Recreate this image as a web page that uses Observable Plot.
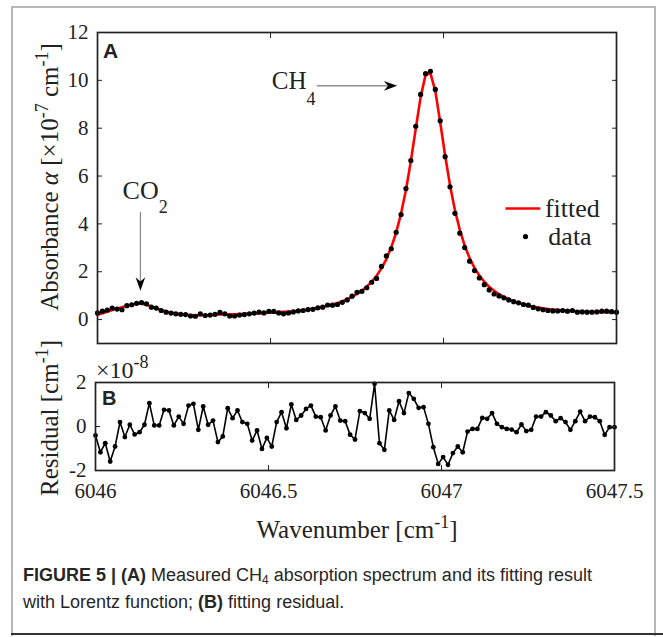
<!DOCTYPE html>
<html><head><meta charset="utf-8">
<script src="https://cdn.jsdelivr.net/npm/d3@7"></script>
<script src="https://cdn.jsdelivr.net/npm/@observablehq/plot@0.6"></script>
<style>
body{margin:0;background:#fff;}
#fig{position:relative;width:663px;height:637px;overflow:hidden;background:#fff;}
.border{position:absolute;left:11px;top:6px;width:645px;height:630px;border-left:2px solid #b8b8b8;border-top:2px solid #b8b8b8;border-right:2px solid #b8b8b8;box-sizing:border-box;}
.bottomline{position:absolute;left:11px;top:633px;width:652px;height:2px;background:#333;}
.caption{position:absolute;left:23px;top:562px;font-family:"Liberation Sans",Arial,sans-serif;font-size:18px;line-height:27px;color:#262626;white-space:nowrap;}
.caption sub{font-size:12px;vertical-align:-3px;line-height:0;}
</style>
</head><body>
<div id="fig"><div class="border"></div><div class="bottomline"></div>
<div class="caption"><b>FIGURE 5 | (A)</b> Measured CH<sub>4</sub> absorption spectrum and its fitting result<br>with Lorentz function; <b>(B)</b> fitting residual.</div>
</div>
<script>
// ---------------- data ----------------
const wavenumber = [
6046.0000, 6046.0142, 6046.0283, 6046.0425, 6046.0566, 6046.0708, 6046.0849, 6046.0991, 6046.1132, 6046.1274,
6046.1415, 6046.1557, 6046.1698, 6046.1840, 6046.1981, 6046.2123, 6046.2264, 6046.2406, 6046.2547, 6046.2689,
6046.2830, 6046.2972, 6046.3113, 6046.3255, 6046.3396, 6046.3538, 6046.3679, 6046.3821, 6046.3962, 6046.4104,
6046.4245, 6046.4387, 6046.4528, 6046.4670, 6046.4811, 6046.4953, 6046.5094, 6046.5236, 6046.5377, 6046.5519,
6046.5660, 6046.5802, 6046.5943, 6046.6085, 6046.6226, 6046.6368, 6046.6509, 6046.6651, 6046.6792, 6046.6934,
6046.7075, 6046.7217, 6046.7358, 6046.7500, 6046.7641, 6046.7783, 6046.7924, 6046.8066, 6046.8207, 6046.8349,
6046.8490, 6046.8632, 6046.8773, 6046.8915, 6046.9056, 6046.9198, 6046.9339, 6046.9481, 6046.9622, 6046.9764,
6046.9905, 6047.0047, 6047.0188, 6047.0330, 6047.0471, 6047.0613, 6047.0754, 6047.0896, 6047.1037, 6047.1179,
6047.1320, 6047.1462, 6047.1603, 6047.1745, 6047.1886, 6047.2028, 6047.2169, 6047.2311, 6047.2452, 6047.2594,
6047.2735, 6047.2877, 6047.3018, 6047.3160, 6047.3301, 6047.3443, 6047.3584, 6047.3726, 6047.3867, 6047.4009,
6047.4150, 6047.4292, 6047.4433, 6047.4575, 6047.4716, 6047.4858, 6047.5000];

// absorbance data, x 1e-7 cm^-1
const absorbance = [
0.28, 0.35, 0.40, 0.48, 0.44, 0.41, 0.58, 0.62, 0.68, 0.71,
0.66, 0.52, 0.48, 0.38, 0.31, 0.27, 0.24, 0.22, 0.21, 0.15,
0.14, 0.24, 0.17, 0.19, 0.22, 0.30, 0.24, 0.15, 0.15, 0.19,
0.21, 0.24, 0.27, 0.31, 0.28, 0.34, 0.34, 0.28, 0.24, 0.28,
0.32, 0.36, 0.38, 0.42, 0.43, 0.49, 0.52, 0.61, 0.60, 0.63,
0.72, 0.82, 0.98, 1.14, 1.18, 1.33, 1.56, 1.72, 2.22, 2.66,
2.96, 3.65, 4.39, 5.48, 6.65, 8.08, 9.41, 10.28, 10.38, 9.62,
8.31, 6.81, 5.55, 4.44, 3.61, 3.01, 2.44, 2.05, 1.74, 1.46,
1.24, 1.07, 0.99, 0.91, 0.82, 0.75, 0.70, 0.63, 0.60, 0.51,
0.45, 0.41, 0.38, 0.36, 0.36, 0.38, 0.35, 0.38, 0.31, 0.32,
0.31, 0.31, 0.32, 0.35, 0.35, 0.33, 0.31];

// fitted curve, x 1e-7 cm^-1
const fitted = [
0.20, 0.26, 0.33, 0.40, 0.46, 0.52, 0.58, 0.63, 0.66, 0.66,
0.62, 0.55, 0.47, 0.40, 0.34, 0.29, 0.25, 0.22, 0.20, 0.19,
0.18, 0.18, 0.18, 0.19, 0.20, 0.21, 0.21, 0.22, 0.22, 0.23,
0.24, 0.25, 0.26, 0.27, 0.28, 0.29, 0.30, 0.31, 0.32, 0.33,
0.35, 0.37, 0.39, 0.42, 0.45, 0.49, 0.53, 0.58, 0.63, 0.69,
0.76, 0.85, 0.95, 1.07, 1.21, 1.38, 1.58, 1.83, 2.14, 2.53,
3.02, 3.64, 4.43, 5.42, 6.62, 7.98, 9.30, 10.22, 10.30, 9.55,
8.25, 6.86, 5.62, 4.58, 3.75, 3.09, 2.57, 2.16, 1.84, 1.58,
1.37, 1.20, 1.06, 0.95, 0.85, 0.77, 0.70, 0.64, 0.59, 0.54,
0.50, 0.47, 0.44, 0.42, 0.40, 0.38, 0.37, 0.36, 0.35, 0.34,
0.33, 0.32, 0.32, 0.31, 0.31, 0.30, 0.30];

// residual, x 1e-8 cm^-1
const residual = [
-0.41, -1.17, -0.76, -1.59, -0.91, 0.20, -0.48, 0.08, -0.36, -0.26,
0.08, 1.06, 0.05, 0.05, 0.76, 0.73, 0.05, 0.45, 0.12, 0.95,
1.03, -0.15, 0.91, 0.08, 0.27, -0.71, -0.45, 0.83, 0.38, 0.73,
0.20, 0.12, -0.64, -0.18, -1.02, -0.52, -0.91, 0.20, 0.65, -0.08,
1.00, 0.30, 0.50, 0.80, 0.95, 0.45, 0.42, -0.18, 0.50, 0.91,
0.27, 0.24, -0.37, -0.59, 0.70, 0.61, 0.35, 1.94, -0.76, -1.06,
0.73, 0.30, 1.15, 0.61, 1.52, 1.26, 0.85, 0.88, 0.12, -0.94,
-1.70, -1.39, -1.74, -1.21, -0.91, -1.17, -0.23, -0.11, -0.11, 0.39,
0.35, 0.61, 0.12, -0.03, -0.11, -0.14, -0.26, 0.09, -0.21, -0.15,
0.45, 0.45, 0.65, 0.50, 0.24, 0.38, 0.20, -0.15, 0.24, 0.68,
0.24, 0.45, 0.42, 0.24, -0.38, -0.03, -0.03];

const xTicks = [6046, 6046.5, 6047, 6047.5];
const xTickLabels = ["6046", "6046.5", "6047", "6047.5"];
const yTicksA = [0, 2, 4, 6, 8, 10, 12];
const yTickLabelsA = ["0", "2", "4", "6", "8", "10", "12"];
const yTicksB = [-2, 0, 2];
const yTickLabelsB = ["-2", "0", "2"];
const legendLabels = ["fitted", "data"];
const annotationLabels = [["CH", "4"], ["CO", "2"]];

// ---------------- build ----------------
const rows = wavenumber.map((x, i) => ({x, a: absorbance[i], f: fitted[i], r: residual[i]}));
const serif = '"Liberation Serif", "Times New Roman", serif';
const ink = "#222";
const fmt = (ticks, labels) => { const m = new Map(ticks.map((t, i) => [t, labels[i]])); return d => m.get(d); };
const blank = () => "";

const arrowHead = {draw(ctx, size) {
  const L = Math.sqrt(size), W = L * 0.72;
  ctx.moveTo(0, 0); ctx.lineTo(-L, -W / 2); ctx.lineTo(-0.68 * L, 0); ctx.lineTo(-L, W / 2); ctx.closePath();
}};
const one = [0];

const A = Plot.plot({
  width: 663, height: 350,
  marginTop: 32, marginBottom: 7, marginLeft: 97, marginRight: 47,
  style: {fontFamily: serif, fontSize: "21px", color: ink, background: "transparent", overflow: "visible"},
  x: {domain: [6046, 6047.5]},
  y: {domain: [-1, 12]},
  marks: [
    Plot.line(rows, {x: "x", y: "f", stroke: "#ff0000", strokeWidth: 2.6}),
    Plot.dot(rows, {x: "x", y: "a", r: 2.6, fill: "#000", stroke: "none"}),
    // CH4 annotation
    Plot.text(one, {x: 6046.604, y: 9.96, text: () => annotationLabels[0][0], textAnchor: "end", fontSize: 25, fill: ink}),
    Plot.text(one, {x: 6046.604, y: 9.22, text: () => annotationLabels[0][1], textAnchor: "start", fontSize: 18, fill: ink}),
    Plot.link(one, {x1: 6046.634, x2: 6046.85, y1: 9.77, y2: 9.77, stroke: "#555", strokeWidth: 1}),
    Plot.dot(one, {x: 6046.866, y: 9.77, symbol: arrowHead, r: 7.5, fill: "#000", stroke: "none"}),
    // CO2 annotation
    Plot.text(one, {x: 6046.177, y: 5.40, text: () => annotationLabels[1][0], textAnchor: "end", fontSize: 26, fill: ink}),
    Plot.text(one, {x: 6046.177, y: 4.68, text: () => annotationLabels[1][1], textAnchor: "start", fontSize: 18, fill: ink}),
    Plot.link(one, {x1: 6046.124, x2: 6046.124, y1: 4.5, y2: 1.5, stroke: "#888", strokeWidth: 1.2}),
    Plot.dot(one, {x: 6046.124, y: 1.21, symbol: arrowHead, r: 7.5, rotate: 90, fill: "#000", stroke: "none"}),
    // legend
    Plot.link(one, {x1: 6047.179, x2: 6047.280, y1: 4.64, y2: 4.64, stroke: "#ff0000", strokeWidth: 2.6}),
    Plot.text(one, {x: 6047.293, y: 4.64, text: () => legendLabels[0], textAnchor: "start", fontSize: 26, fill: ink}),
    Plot.dot(one, {x: 6047.237, y: 3.47, r: 2.6, fill: "#000", stroke: "none"}),
    Plot.text(one, {x: 6047.303, y: 3.47, text: () => legendLabels[1], textAnchor: "start", fontSize: 26, fill: ink}),
    // axes (ticks inside, box on)
    Plot.axisY(yTicksA, {anchor: "left", tickSize: -5, tickPadding: 14, tickFormat: fmt(yTicksA, yTickLabelsA), label: null, stroke: ink}),
    Plot.axisY(yTicksA, {anchor: "right", tickSize: -5, tickFormat: blank, label: null, stroke: ink}),
    Plot.axisX(xTicks, {anchor: "bottom", tickSize: -5, tickFormat: blank, label: null, stroke: ink}),
    Plot.axisX(xTicks, {anchor: "top", tickSize: -5, tickFormat: blank, label: null, stroke: ink}),
    Plot.frame({stroke: ink, strokeWidth: 1.7})
  ]
});

const B = Plot.plot({
  width: 663, height: 150,
  marginTop: 32, marginBottom: 30, marginLeft: 95, marginRight: 49,
  style: {fontFamily: serif, fontSize: "21px", color: ink, background: "transparent", overflow: "visible"},
  x: {domain: [6046, 6047.5]},
  y: {domain: [-2, 2]},
  marks: [
    Plot.line(rows, {x: "x", y: "r", stroke: "#000", strokeWidth: 1.6}),
    Plot.dot(rows, {x: "x", y: "r", r: 2.4, fill: "#000", stroke: "none"}),
    Plot.axisY(yTicksB, {anchor: "left", tickSize: -5, tickPadding: 14, tickFormat: fmt(yTicksB, yTickLabelsB), label: null, stroke: ink}),
    Plot.axisY(yTicksB, {anchor: "right", tickSize: -5, tickFormat: blank, label: null, stroke: ink}),
    Plot.axisX(xTicks, {anchor: "bottom", tickSize: -5, tickPadding: 18, tickFormat: fmt(xTicks, xTickLabels), label: null, stroke: ink}),
    Plot.axisX(xTicks, {anchor: "top", tickSize: -5, tickFormat: blank, label: null, stroke: ink}),
    Plot.frame({stroke: ink, strokeWidth: 1.7})
  ]
});

const fig = document.getElementById("fig");
A.style.position = "absolute"; A.style.left = "0px"; A.style.top = "0px";
B.style.position = "absolute"; B.style.left = "0px"; B.style.top = "350px";
fig.appendChild(A); fig.appendChild(B);

// ---------------- axis titles and panel letters ----------------
const ov = d3.select(fig).append("svg")
  .attr("width", 663).attr("height", 637)
  .style("position", "absolute").style("left", "0px").style("top", "0px")
  .style("overflow", "visible")
  .attr("font-family", serif).attr("fill", ink);

function rich(sel, parts) {
  parts.forEach(p => {
    const t = sel.append("tspan").text(p.t);
    if (p.sup) t.attr("font-size", 18).attr("dy", -10);
    if (p.back) t.attr("dy", 10);
    if (p.it) t.attr("font-style", "italic");
  });
  return sel;
}

rich(ov.append("text").attr("font-size", 25).attr("text-anchor", "middle")
  .attr("transform", "translate(58,177) rotate(-90)"),
  [{t: "Absorbance "}, {t: "α", it: true}, {t: " [×10"}, {t: "-7", sup: true}, {t: " cm", back: true}, {t: "-1", sup: true}, {t: "]", back: true}]);

rich(ov.append("text").attr("font-size", 25).attr("text-anchor", "middle")
  .attr("transform", "translate(58,418) rotate(-90)"),
  [{t: "Residual [cm"}, {t: "-1", sup: true}, {t: "]", back: true}]);

rich(ov.append("text").attr("font-size", 25).attr("text-anchor", "middle")
  .attr("x", 357).attr("y", 538),
  [{t: "Wavenumber [cm"}, {t: "-1", sup: true}, {t: "]", back: true}]);

rich(ov.append("text").attr("font-size", 24).attr("x", 96).attr("y", 378),
  [{t: "×10"}, {t: "-8", sup: true}]);

ov.append("text").attr("x", 103).attr("y", 58).attr("font-family", '"Liberation Sans", Arial, sans-serif')
  .attr("font-weight", "bold").attr("font-size", 21).text("A");
ov.append("text").attr("x", 102).attr("y", 405).attr("font-family", '"Liberation Sans", Arial, sans-serif')
  .attr("font-weight", "bold").attr("font-size", 20).text("B");
</script>
</body></html>
